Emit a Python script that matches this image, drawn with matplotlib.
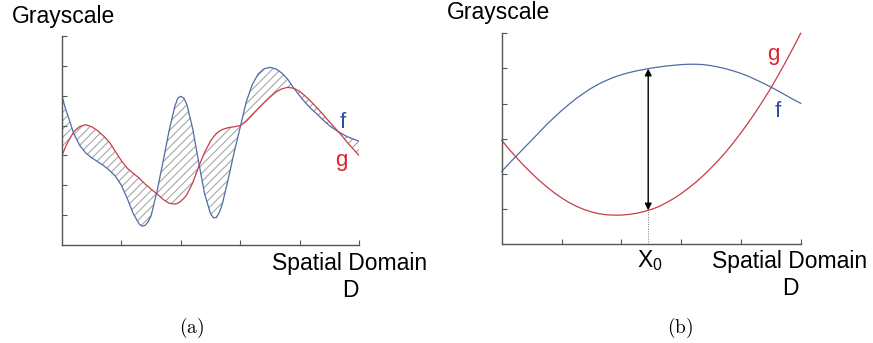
import numpy as np
import matplotlib
matplotlib.use('agg')
import matplotlib.pyplot as plt

plt.rcParams['font.family'] = ['Liberation Sans', 'DejaVu Sans']
plt.rcParams['mathtext.fontset'] = 'custom'
plt.rcParams['mathtext.rm'] = 'Liberation Sans'
plt.rcParams['mathtext.it'] = 'Liberation Sans'
plt.rcParams['hatch.linewidth'] = 0.7

# ---- panel (a): two wiggly grayscale profiles, area between them hatched
xa = [0.0, 0.05, 0.1, 0.2, 0.3, 0.4, 0.5, 0.6, 0.7, 0.8, 0.9, 1.0, 1.1, 1.2, 1.3, 1.35,
      1.4, 1.45, 1.5, 1.6, 1.7, 1.8, 1.9, 1.95, 2.0, 2.05, 2.1, 2.2, 2.3, 2.4, 2.5, 2.55,
      2.6, 2.65, 2.7, 2.8, 2.9, 3.0, 3.1, 3.2, 3.3, 3.4, 3.5, 3.6, 3.7, 3.8, 3.9, 4.0,
      4.1, 4.2, 4.3, 4.4, 4.5, 4.6, 4.7, 4.8, 4.9, 5.0]
fa = [5.0, 4.62, 4.33, 3.72, 3.33, 3.08, 2.92, 2.79, 2.66, 2.50, 2.30, 2.00, 1.55, 1.05, 0.70, 0.63,
      0.66, 0.78, 0.98, 1.80, 2.78, 3.80, 4.65, 4.92, 4.98, 4.92, 4.72, 3.90, 2.78, 1.72, 1.05, 0.91,
      0.92, 1.10, 1.38, 2.22, 3.12, 3.94, 4.78, 5.36, 5.72, 5.90, 5.95, 5.90, 5.76, 5.55, 5.26, 5.00,
      4.76, 4.55, 4.37, 4.18, 4.00, 3.86, 3.74, 3.63, 3.55, 3.48]
ga = [3.00, 3.24, 3.45, 3.80, 3.97, 4.03, 3.96, 3.83, 3.65, 3.44, 3.13, 2.82, 2.57, 2.40, 2.24, 2.14,
      2.04, 1.96, 1.87, 1.71, 1.53, 1.40, 1.37, 1.40, 1.47, 1.56, 1.68, 2.08, 2.62, 3.10, 3.48, 3.62,
      3.74, 3.81, 3.87, 3.93, 3.96, 4.00, 4.14, 4.35, 4.56, 4.76, 4.95, 5.12, 5.23, 5.28, 5.25, 5.15,
      4.98, 4.79, 4.58, 4.36, 4.13, 3.91, 3.69, 3.44, 3.22, 3.00]

# ---- panel (b): two smooth profiles, distance measured at x0
xb = [0.0, 0.125, 0.25, 0.375, 0.5, 0.625, 0.75, 0.875, 1.0, 1.125, 1.25, 1.375, 1.5, 1.625,
      1.75, 1.875, 2.0, 2.125, 2.25, 2.375, 2.5, 2.625, 2.75, 2.875, 3.0, 3.125, 3.25, 3.375,
      3.5, 3.625, 3.75, 3.875, 4.0, 4.125, 4.25, 4.375, 4.5, 4.625, 4.75, 4.875, 5.0]
fb = [2.07, 2.30, 2.52, 2.74, 2.96, 3.18, 3.40, 3.605, 3.80, 3.98, 4.15, 4.30, 4.44, 4.56,
      4.66, 4.75, 4.82, 4.88, 4.93, 4.97, 5.01, 5.04, 5.07, 5.09, 5.11, 5.12, 5.12, 5.11,
      5.08, 5.04, 4.99, 4.93, 4.86, 4.78, 4.68, 4.58, 4.47, 4.36, 4.24, 4.12, 4.01]
gb = [2.96, 2.70, 2.46, 2.23, 2.02, 1.82, 1.64, 1.47, 1.32, 1.19, 1.08, 0.99, 0.92, 0.87,
      0.84, 0.83, 0.83, 0.85, 0.88, 0.93, 0.99, 1.07, 1.18, 1.30, 1.44, 1.60, 1.77, 1.96,
      2.17, 2.39, 2.63, 2.89, 3.17, 3.46, 3.77, 4.10, 4.44, 4.81, 5.19, 5.59, 6.00]
x0 = 2.45

blue = '#4f6ca6'
red = '#c83c46'
blue_txt = '#2f4fa5'
red_txt = '#e0212b'

W, H = 873, 343
fig = plt.figure(figsize=(W / 100, H / 100), dpi=100)


def px(x, y):
    return x / W, 1 - y / H


def style_axes(ax, xmax, ymax):
    ax.set_xlim(0, xmax)
    ax.set_ylim(0, ymax)
    for s in ['top', 'right']:
        ax.spines[s].set_visible(False)
    for s in ['left', 'bottom']:
        ax.spines[s].set_color('#555555')
        ax.spines[s].set_linewidth(1.0)
    ax.set_xticks(range(1, xmax + 1))
    ax.set_yticks(range(1, ymax + 1))
    ax.set_xticklabels([])
    ax.set_yticklabels([])
    ax.tick_params(direction='in', length=3.5, width=0.8, color='#555555')
    ax.patch.set_alpha(0)


# panel (a)
axa = fig.add_axes([62 / W, 1 - 245 / H, 297 / W, 209 / H])
style_axes(axa, 5, 7)
axa.fill_between(xa, fa, ga, facecolor='none', edgecolor='#9c9c9c', hatch='////', linewidth=0)
axa.plot(xa, fa, color=blue, lw=0.9)
axa.plot(xa, ga, color=red, lw=0.9)

# panel (b)
axb = fig.add_axes([501.7 / W, 1 - 244.3 / H, 299 / W, 211 / H])
style_axes(axb, 5, 6)
axb.plot(xb, fb, color=blue, lw=0.9, clip_on=False)
axb.plot(xb, gb, color=red, lw=0.9, clip_on=False)
y_low = np.interp(x0, xb, gb)
y_high = np.interp(x0, xb, fb)
axb.annotate('', xy=(x0, y_high), xytext=(x0, y_low),
             arrowprops=dict(arrowstyle='<|-|>', color='black', lw=1.0,
                             mutation_scale=10, shrinkA=0, shrinkB=0))
axb.plot([x0, x0], [0, y_low], color='#777777', lw=0.7, ls=(0, (1, 1.5)))

fs = 16.5
# texts of panel (a)
fig.text(*px(12, 23), 'Grayscale', fontsize=fs, ha='left', va='baseline')
fig.text(*px(350, 270), 'Spatial Domain', fontsize=fs, ha='center', va='baseline')
fig.text(*px(350, 297), 'D', fontsize=fs, ha='center', va='baseline')
fig.text(*px(343, 128), 'f', fontsize=16, color=blue_txt, ha='center', va='baseline')
fig.text(*px(341, 166), 'g', fontsize=16, color=red_txt, ha='center', va='baseline')
fig.text(*px(192, 328), r'$\mathrm{(a)}$', fontsize=14, ha='center', va='center',
         math_fontfamily='cm')

# texts of panel (b)
fig.text(*px(447, 19), 'Grayscale', fontsize=fs, ha='left', va='baseline')
fig.text(*px(790, 268), 'Spatial Domain', fontsize=fs, ha='center', va='baseline')
fig.text(*px(790, 295), 'D', fontsize=fs, ha='center', va='baseline')
fig.text(*px(773, 60), 'g', fontsize=16, color=red_txt, ha='center', va='baseline')
fig.text(*px(778, 117), 'f', fontsize=16, color=blue_txt, ha='center', va='baseline')
fig.text(*px(650, 267), r'$\mathrm{X}_{0}$', fontsize=fs, ha='center', va='baseline')
fig.text(*px(680, 328), r'$\mathrm{(b)}$', fontsize=14, ha='center', va='center',
         math_fontfamily='cm')

fig.savefig('out.png', dpi=100)
